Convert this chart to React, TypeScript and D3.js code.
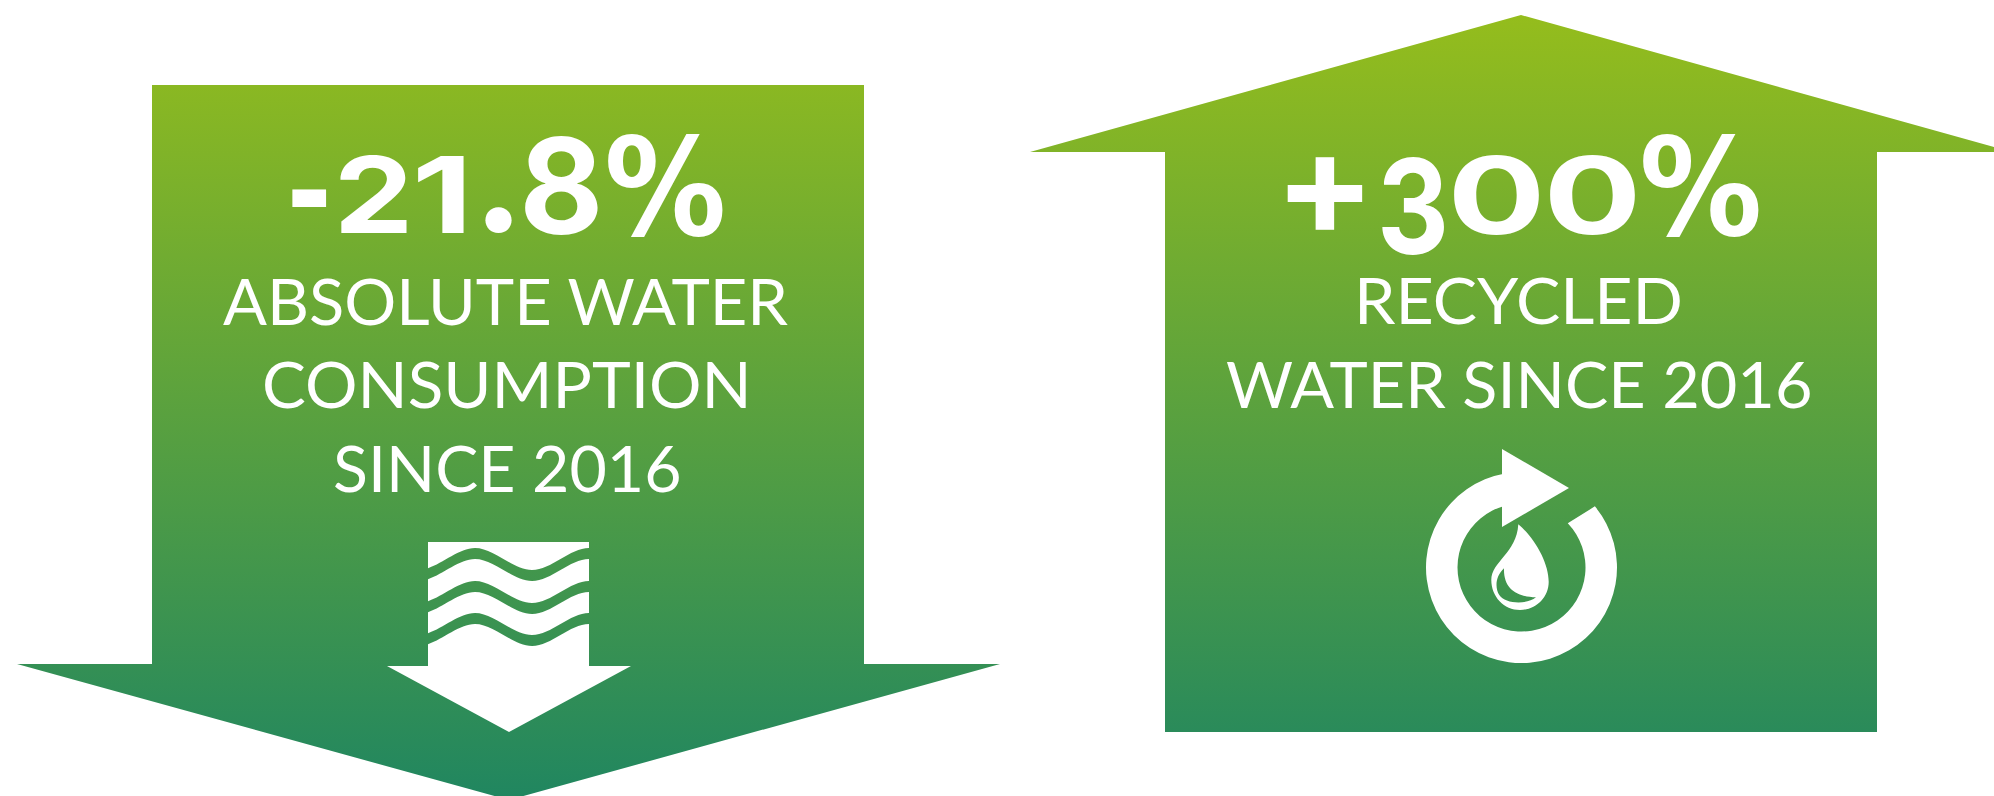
import React from "react";
import * as d3 from "d3";

const WIDTH = 1994;
const HEIGHT = 796;

// text content
const leftLabel = ["ABSOLUTE WATER", "CONSUMPTION", "SINCE 2016"];
const rightLabel = ["RECYCLED", "WATER SINCE 2016"];
const leftHead = ["-", "2", "1", ".", "8", "%"];
const rightHead = ["+", "3", "0", "0", "%"];

// headline glyph boxes: [x0, x1, top, bottom] of the ink
const leftHeadBox = [
  [292, 326, 189, 207],
  [340, 407, 155, 233],
  [418, 464, 156, 233],
  [485, 512, 208, 234],
  [525, 598, 136, 235],
  [608, 723, 134, 237],
];
const rightHeadBox = [
  [1287, 1362, 156, 229],
  [1382, 1444, 157, 255],
  [1454, 1539, 155, 235],
  [1550, 1635, 155, 235],
  [1643, 1759, 134, 237],
];

// label line extents: [x0, x1, baseline]
const leftLabelBox = [
  [223, 789, 325],
  [265, 746, 408],
  [335, 679, 492],
];
const rightLabelBox = [
  [1360, 1680, 324],
  [1227, 1810, 408],
];
const CAP_HEIGHT = 46;

const waveEdge: [number, number][] = [
  [361, 548], [418, 570], [475, 548], [532, 570], [589, 548], [646, 570],
];
const waveOffsets = [0, 33, 65];
const WAVE_THICK = 11;

const polygon = d3.line().curve(d3.curveLinear);
const wave = d3.line().curve(d3.curveMonotoneX);

const downArrow: [number, number][] = [
  [152, 85], [864, 85], [864, 664], [1000, 664], [509, 800], [17, 664], [152, 664],
];
const upArrow: [number, number][] = [
  [1521, 15], [2012, 152], [1877, 152], [1877, 732], [1165, 732], [1165, 152], [1030, 152],
];
const waterArrow: [number, number][] = [
  [428, 542], [589, 542], [589, 666], [631, 666], [509, 732], [387, 666], [428, 666],
];
const recycleHead: [number, number][] = [
  [1502, 449], [1569, 488], [1502, 527],
];

const rad = d3.scaleLinear().domain([0, 360]).range([0, 2 * Math.PI]);
const ringPath = () => {
  const p = d3.path();
  p.arc(1521.5, 567.5, 95.5, rad(-39.8), rad(260));
  p.arc(1521.5, 567.5, 64, rad(255), rad(-43.7), true);
  p.closePath();
  return p.toString();
};

const dropPath =
  "M1518.3,524.3 C1535,538.3 1548.7,563.3 1548.7,581.7 C1548.7,598.3 1535,610 1520,610 " +
  "C1504,610 1491.3,596.7 1491.3,580 C1491.3,561.7 1516.7,553.3 1518.3,524.3 Z";
const crescentPath =
  "M1504,568.3 C1495,576.7 1495,588.3 1499.3,595 C1505,604 1526.7,605 1536,597.3 " +
  "C1518.3,596.7 1503.3,590 1504,568.3 Z";

const LABEL_FONT = "400 200px Lato";

const ctx = document.createElement("canvas").getContext("2d") as CanvasRenderingContext2D;
const ink = (font: string, s: string) => {
  ctx.font = font;
  const m = ctx.measureText(s);
  return {
    left: m.actualBoundingBoxLeft,
    width: m.actualBoundingBoxLeft + m.actualBoundingBoxRight,
    ascent: m.actualBoundingBoxAscent,
    descent: m.actualBoundingBoxDescent,
  };
};

// stretch one headline glyph so its ink fills the box
function HeadGlyph({ ch, box }: { ch: string; box: number[] }) {
  const [x0, x1, top, bottom] = box;
  const family = ch === "%" ? "DejaVu Sans" : "Inter";
  const weight = ch === "%" ? 700 : 700;
  const m = ink(`${weight} 200px "${family}"`, ch);
  const sx = (x1 - x0) / m.width;
  const sy = (bottom - top) / (m.ascent + m.descent);
  return (
    <text
      transform={`translate(${x0 + m.left * sx},${bottom - m.descent * sy}) scale(${sx},${sy})`}
      fontFamily={`"${family}", sans-serif`}
      fontWeight={weight}
      fontSize={200}
      fill="#fff"
    >
      {ch}
    </text>
  );
}

function Label({ line, box }: { line: string; box: number[] }) {
  const m = ink(LABEL_FONT, line);
  const sx = (box[1] - box[0]) / m.width;
  const sy = CAP_HEIGHT / ink(LABEL_FONT, "H").ascent;
  return (
    <text
      transform={`translate(${box[0] + m.left * sx},${box[2]}) scale(${sx},${sy})`}
      fontFamily="Lato, sans-serif"
      fontWeight={400}
      fontSize={200}
      fill="#fff"
    >
      {line}
    </text>
  );
}

export default function App() {
  const bandPath = (dy: number) => {
    const top = wave(waveEdge.map(([x, y]) => [x, y + dy]) as [number, number][]) as string;
    const bottom = wave(
      waveEdge.map(([x, y]) => [x, y + dy + WAVE_THICK]).reverse() as [number, number][]
    ) as string;
    return top + "L" + bottom.slice(1) + "Z";
  };

  return (
    <svg
      width={WIDTH}
      height={HEIGHT}
      style={{ position: "absolute", left: 0, top: 0, display: "block" }}
    >
      <defs>
        <linearGradient id="green" gradientUnits="userSpaceOnUse" x1={0} y1={12} x2={0} y2={800}>
          <stop offset="0" stopColor="#95bd1c" />
          <stop offset="1" stopColor="#208660" />
        </linearGradient>
        <clipPath id="waterClip">
          <rect x={428} y={542} width={161} height={124} />
        </clipPath>
      </defs>

      <path d={polygon(downArrow) + "Z"} fill="url(#green)" />
      <path d={polygon(upArrow) + "Z"} fill="url(#green)" />

      {/* left panel */}
      {leftHead.map((ch, i) => (
        <HeadGlyph key={i} ch={ch} box={leftHeadBox[i]} />
      ))}
      {leftLabel.map((line, i) => (
        <Label key={i} line={line} box={leftLabelBox[i]} />
      ))}
      <path d={polygon(waterArrow) + "Z"} fill="#fff" />
      <g clipPath="url(#waterClip)">
        {waveOffsets.map((dy) => (
          <path key={dy} d={bandPath(dy)} fill="url(#green)" />
        ))}
      </g>

      {/* right panel */}
      {rightHead.map((ch, i) => (
        <HeadGlyph key={i} ch={ch} box={rightHeadBox[i]} />
      ))}
      {rightLabel.map((line, i) => (
        <Label key={i} line={line} box={rightLabelBox[i]} />
      ))}
      <path d={ringPath()} fill="#fff" />
      <path d={polygon(recycleHead) + "Z"} fill="#fff" />
      <path d={dropPath} fill="#fff" />
      <path d={crescentPath} fill="url(#green)" />
    </svg>
  );
}
